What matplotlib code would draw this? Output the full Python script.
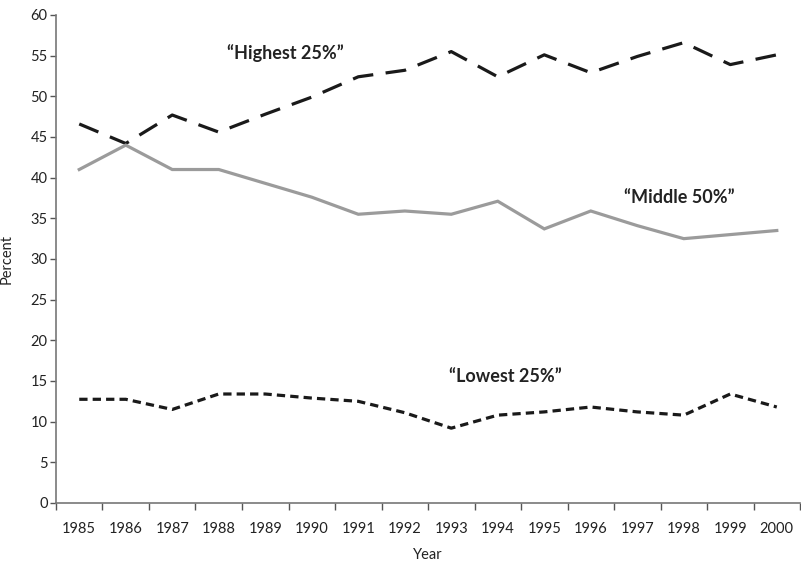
import numpy as np
import matplotlib
matplotlib.use('Agg')
import matplotlib.pyplot as plt

plt.rcParams['font.family'] = ['Lato', 'DejaVu Sans']

years = ['1985', '1986', '1987', '1988', '1989', '1990', '1991', '1992',
         '1993', '1994', '1995', '1996', '1997', '1998', '1999', '2000']
highest = [46.6, 44.2, 47.7, 45.6, 47.8, 49.9, 52.4, 53.2,
           55.5, 52.4, 55.1, 52.9, 54.9, 56.6, 53.9, 55.1]
middle = [41.0, 44.0, 41.0, 41.0, 39.3, 37.6, 35.5, 35.9,
          35.5, 37.1, 33.7, 35.9, 34.1, 32.5, 33.0, 33.5]
lowest = [12.75, 12.75, 11.5, 13.4, 13.4, 12.9, 12.5, 11.1,
          9.2, 10.8, 11.2, 11.8, 11.2, 10.8, 13.4, 11.8]

x = np.arange(len(years))

fig = plt.figure(figsize=(8.01, 5.61), dpi=100)
ax = fig.add_axes([0.0699, 0.1034, 0.9289, 0.8699])

ax.plot(x, highest, color='#1a1a1a', lw=2.3, dashes=(6.5, 3.9))
ax.plot(x, middle, color='#9b9b9b', lw=2.3, solid_joinstyle='miter')
ax.plot(x, lowest, color='#1a1a1a', lw=2.3, dashes=(2.6, 1.6))

ax.text(4.44, 55.3, '\u201cHighest 25%\u201d', fontsize=13, fontweight='bold',
        color='#222222', ha='center', va='center')
ax.text(12.9, 37.6, '\u201cMiddle 50%\u201d', fontsize=13, fontweight='bold',
        color='#222222', ha='center', va='center')
ax.text(9.17, 15.5, '\u201cLowest 25%\u201d', fontsize=13, fontweight='bold',
        color='#222222', ha='center', va='center')

ax.set_xlim(-0.5, len(years) - 0.5)
ax.set_ylim(0, 60)
ax.set_yticks(np.arange(0, 61, 5))
ax.set_xticks(x)
ax.set_xticklabels(years)
ax.set_xticks(np.arange(-0.5, len(years), 1), minor=True)
ax.tick_params(axis='x', which='major', length=0, pad=14, labelsize=10.5, colors='#222222')
ax.tick_params(axis='x', which='minor', length=5, width=1, color='#555555', direction='out')
ax.tick_params(axis='y', length=4, width=1, color='#555555', labelsize=10.5, pad=2, labelcolor='#222222')

for s in ['top', 'right']:
    ax.spines[s].set_visible(False)
for s in ['left', 'bottom']:
    ax.spines[s].set_color('#777777')
    ax.spines[s].set_linewidth(1.2)

ax.set_xlabel('Year', fontsize=10.5, color='#222222', labelpad=8)
ax.set_ylabel('Percent', fontsize=10.5, color='#222222', labelpad=12)

fig.savefig('out.png', dpi=100)
